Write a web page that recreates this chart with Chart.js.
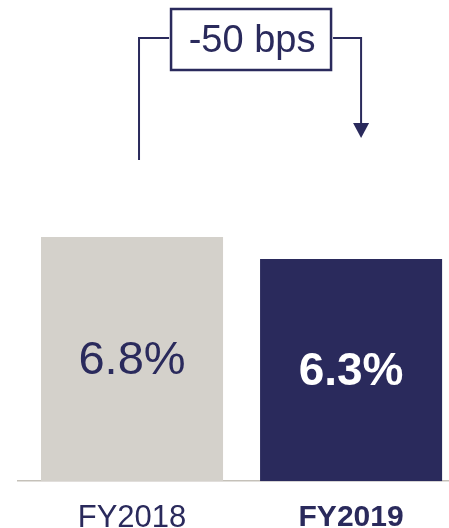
<!DOCTYPE html>
<html><head><meta charset="utf-8">
<script src="https://cdn.jsdelivr.net/npm/chart.js@4"></script>
<style>html,body{margin:0;padding:0;background:#fff;overflow:hidden}#wrap{width:449px;height:528px;position:relative}</style>
</head><body><div id="wrap"><canvas id="c"></canvas></div>
<script>
const categories = ['FY2018', 'FY2019'];
const marginValues = [6.8, 6.3];
const barColors = ['#d4d1cb', '#2a2a5c'];
const labelColors = ['#2a2a5c', '#ffffff'];
const labelWeights = ['normal', 'bold'];
const changeUnit = 'bps';
const yMin = 1.25;
const yMax = 12.19;

const NAVY = '#2a2a5c';
const FONT = "'Liberation Sans', Arial, sans-serif";

const valueLabels = {
  id: 'valueLabels',
  afterDatasetsDraw(chart) {
    const ctx = chart.ctx;
    const meta = chart.getDatasetMeta(0);
    const bottom = chart.chartArea.bottom;
    meta.data.forEach((bar, i) => {
      ctx.save();
      ctx.font = `${labelWeights[i]} ${i === 1 ? 46 : 47}px ${FONT}`;
      ctx.fillStyle = labelColors[i];
      ctx.textAlign = 'center';
      ctx.textBaseline = 'middle';
      ctx.fillText(marginValues[i].toFixed(1) + '%', bar.x, (bar.y + bottom) / 2 + 2);
      ctx.restore();
    });
  }
};

const changeBracket = {
  id: 'changeBracket',
  afterDraw(chart) {
    const ctx = chart.ctx;
    const meta = chart.getDatasetMeta(0);
    const b0 = meta.data[0], b1 = meta.data[1];
    const diff = Math.round((marginValues[1] - marginValues[0]) * 100);
    const text = (diff > 0 ? '+' : '') + diff + ' ' + changeUnit;
    const top = chart.chartArea.top;
    const lx = b0.x + 7, rx = b1.x + 10;
    const mid = (lx + rx) / 2;
    const boxL = mid - 79, boxR = mid + 81, boxT = top + 9, boxB = top + 70;
    const lineY = top + 38;
    ctx.save();
    ctx.strokeStyle = NAVY;
    ctx.fillStyle = NAVY;
    ctx.lineWidth = 2;
    ctx.beginPath();
    ctx.moveTo(lx, top + 160);
    ctx.lineTo(lx, lineY);
    ctx.lineTo(boxL - 2, lineY);
    ctx.moveTo(boxR + 2, lineY);
    ctx.lineTo(rx, lineY);
    ctx.lineTo(rx, top + 124);
    ctx.stroke();
    ctx.beginPath();
    ctx.moveTo(rx - 8, top + 123);
    ctx.lineTo(rx + 8, top + 123);
    ctx.lineTo(rx, top + 138);
    ctx.closePath();
    ctx.fill();
    ctx.lineWidth = 2.5;
    ctx.strokeRect(boxL, boxT, boxR - boxL, boxB - boxT);
    ctx.font = `normal 38px ${FONT}`;
    ctx.textAlign = 'center';
    ctx.textBaseline = 'middle';
    ctx.fillText(text, (boxL + boxR) / 2 + 1, (boxT + boxB) / 2 + 2);
    ctx.restore();
  }
};

new Chart(document.getElementById('c'), {
  type: 'bar',
  data: {
    datasets: [{
      data: categories.map((c, i) => ({ x: i, y: marginValues[i] })),
      backgroundColor: barColors,
      borderWidth: 0,
      base: yMin,
      barPercentage: 0.831,
      categoryPercentage: 1
    }]
  },
  options: {
    responsive: true,
    maintainAspectRatio: false,
    animation: false,
    layout: { padding: { left: 18, right: 0, top: 0, bottom: -28 } },
    plugins: { legend: { display: false }, tooltip: { enabled: false } },
    scales: {
      x: {
        type: 'linear',
        offset: false,
        bounds: 'data',
        min: -0.5205,
        max: 1.447,
        afterBuildTicks: s => { s.ticks = categories.map((c, i) => ({ value: i })); },
        grid: { display: false, drawTicks: false, offset: false },
        border: { display: true, color: '#c5c1b9', width: 1.5 },
        ticks: {
          callback: v => categories[v],
          color: NAVY,
          padding: 25,
          maxRotation: 0,
          autoSkip: false,
          font: c => ({ family: FONT, size: c.index === 1 ? 30 : 31, weight: c.index === 1 ? 'bold' : 'normal', lineHeight: 0.8 })
        }
      },
      y: { display: false, beginAtZero: false, bounds: 'data', min: yMin, max: yMax }
    }
  },
  plugins: [valueLabels, changeBracket]
});
</script>
</body></html>
